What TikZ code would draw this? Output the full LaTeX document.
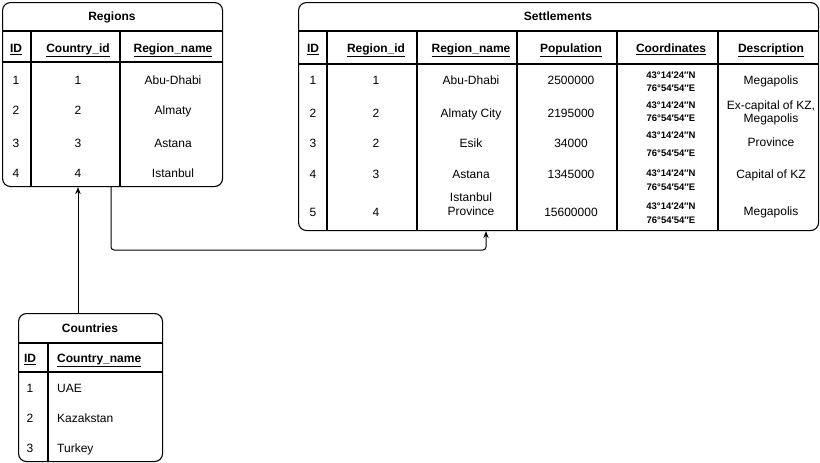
\documentclass[tikz,border=0pt]{standalone}
\usepackage{fontspec}
\setmainfont{Liberation Sans}
\usetikzlibrary{calc,arrows.meta}
\begin{document}
\begin{tikzpicture}[x=1pt,y=-1pt,
  tbl/.style={draw, line width=1.1pt, rounded corners=8pt, rectangle, inner sep=0pt, anchor=north west},
  sep/.style={line width=1.1pt},
  ttl/.style={font=\fontsize{12}{14}\selectfont\bfseries, inner sep=0pt, text height=8.6pt, text depth=0pt},
  hdr/.style={font=\fontsize{12}{14}\selectfont\bfseries, inner sep=0pt, text height=8.6pt, text depth=0pt},
  cell/.style={font=\fontsize{12}{14}\selectfont, inner sep=0pt, text height=8.6pt, text depth=0pt},
  lcell/.style={cell, anchor=west},
  crd/.style={font=\fontsize{9.5}{11}\selectfont\bfseries, inner sep=0pt, text height=6.8pt, text depth=0pt},
  link/.style={line width=1pt, -{Stealth[length=7pt,width=5.5pt]}}
]
\useasboundingbox (0,0) rectangle (820,463);

% ---------------- Regions ----------------
\node[tbl, minimum width=220pt, minimum height=184pt] (regions) at (2,2) {};
\draw[sep] (2,31) -- (222,31);
\draw[sep] (2,62) -- (222,62);
\draw[sep] (31,31) -- (31,186);
\draw[sep] (120,31) -- (120,186);
\node[ttl] (reg-title) at (112,16) {Regions};
\node[hdr] (reg-h1) at (16,48) {\underline{ID}};
\node[hdr] (reg-h2) at (78,48) {\underline{Country\_id}};
\node[hdr] (reg-h3) at (173,48) {\underline{Region\_name}};
\foreach \i/\c/\n/\y in {1/1/Abu-Dhabi/80, 2/2/Almaty/110, 3/3/Astana/143, 4/4/Istanbul/173} {
  \node[cell] (reg-id-\i) at (16,\y) {\i};
  \node[cell] (reg-cid-\i) at (78,\y) {\c};
  \node[cell] (reg-nm-\i) at (173,\y) {\n};
}

% ---------------- Settlements ----------------
\node[tbl, minimum width=520pt, minimum height=228pt] (settlements) at (298,2) {};
\draw[sep] (298,31) -- (818,31);
\draw[sep] (298,64) -- (818,64);
\foreach \x in {327,417,517,617,718} {
  \draw[sep] (\x,31) -- (\x,230);
}
\node[ttl] (set-title) at (558,16) {Settlements};
\node[hdr] (set-h1) at (313,48) {\underline{ID}};
\node[hdr] (set-h2) at (376,48) {\underline{Region\_id}};
\node[hdr] (set-h3) at (471,48) {\underline{Region\_name}};
\node[hdr] (set-h4) at (571,48) {\underline{Population}};
\node[hdr] (set-h5) at (671,48) {\underline{Coordinates}};
\node[hdr] (set-h6) at (771,48) {\underline{Description}};

\foreach \i/\r/\p/\y in {1/1/2500000/80, 2/2/2195000/113, 3/2/34000/143, 4/3/1345000/174, 5/4/15600000/212} {
  \node[cell] (set-id-\i) at (313,\y) {\i};
  \node[cell] (set-rid-\i) at (376,\y) {\r};
  \node[cell] (set-pop-\i) at (571,\y) {\p};
}
\node[cell] (set-nm-1) at (471,80) {Abu-Dhabi};
\node[cell] (set-nm-2) at (471,113) {Almaty City};
\node[cell] (set-nm-3) at (471,143) {Esik};
\node[cell] (set-nm-4) at (471,174) {Astana};
\node[cell] (set-nm-5a) at (471,197) {Istanbul};
\node[cell] (set-nm-5b) at (471,211) {Province};

\foreach \i/\ya/\yb in {1/75/88, 2/105/118, 3/135/153, 4/173/187, 5/206/220} {
  \node[crd] (set-crd-\i a) at (671,\ya) {43°14′24″N};
  \node[crd] (set-crd-\i b) at (671,\yb) {76°54′54″E};
}
\node[cell] (set-ds-1) at (771,80) {Megapolis};
\node[cell] (set-ds-2a) at (771,105) {Ex-capital of KZ,};
\node[cell] (set-ds-2b) at (771,118) {Megapolis};
\node[cell] (set-ds-3) at (771,142) {Province};
\node[cell] (set-ds-4) at (771,174) {Capital of KZ};
\node[cell] (set-ds-5) at (771,211) {Megapolis};

% ---------------- Countries ----------------
\node[tbl, minimum width=144pt, minimum height=148pt] (countries) at (18,313) {};
\draw[sep] (18,343) -- (162,343);
\draw[sep] (18,372) -- (162,372);
\draw[sep] (48,343) -- (48,461);
\node[ttl] (cty-title) at (90,328) {Countries};
\node[hdr] (cty-h1) at (30,358) {\underline{ID}};
\node[hdr, anchor=west] (cty-h2) at (57,358) {\underline{Country\_name}};
\foreach \i/\n/\y in {1/UAE/388, 2/Kazakstan/418, 3/Turkey/448} {
  \node[cell] (cty-id-\i) at (30,\y) {\i};
  \node[lcell] (cty-nm-\i) at (57,\y) {\n};
}

% ---------------- Connectors ----------------
\draw[link] ($(countries.north west)+(60,0)$) -- ($(regions.south west)+(76,0)$);
\coordinate (bend) at (486,250);
\draw[link, rounded corners=3pt] ($(regions.south west)+(109,0)$) |- (bend) -- ($(settlements.south west)+(188,0)$);
\end{tikzpicture}
\end{document}
